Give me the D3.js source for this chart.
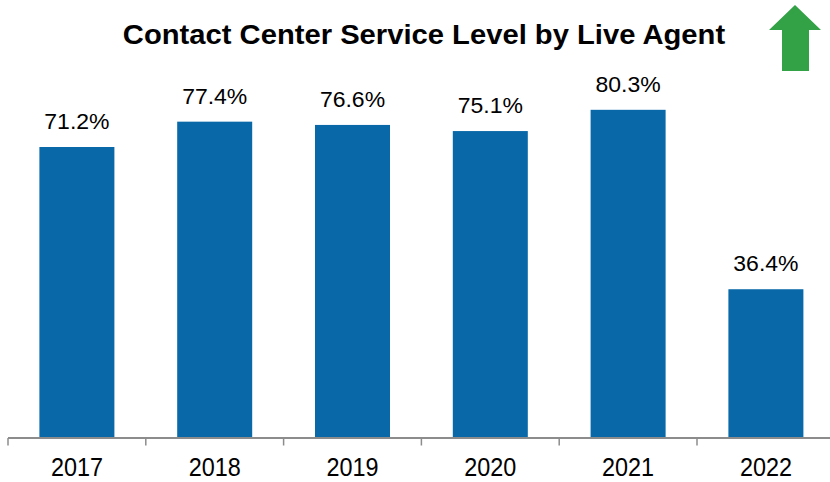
<!DOCTYPE html>
<html>
<head>
<meta charset="utf-8">
<script src="https://cdn.jsdelivr.net/npm/d3@7"></script>
<style>
  body { margin: 0; background: #fff; }
  text { font-family: "Liberation Sans", Arial, sans-serif; fill: #000; }
</style>
</head>
<body>
<div id="chart"></div>
<script>
const years = ['2017', '2018', '2019', '2020', '2021', '2022'];
const serviceLevel = [71.2, 77.4, 76.6, 75.1, 80.3, 36.4];
const titleText = 'Contact Center Service Level by Live Agent';

const width = 830, height = 482;

const svg = d3.select('#chart').append('svg')
  .attr('width', width)
  .attr('height', height);

// band edges carry the tick marks, bars sit in the middle of each band
const x = d3.scaleBand()
  .domain(years)
  .range([8, 8 + 137.8 * years.length])
  .padding(0);

const barWidth = 75;

const y = d3.scaleLinear()
  .domain([0, 100])
  .range([438, 29.3]);

// bars
svg.append('g')
  .selectAll('rect')
  .data(serviceLevel)
  .enter()
  .append('rect')
  .attr('x', (d, i) => x(years[i]) + (x.bandwidth() - barWidth) / 2)
  .attr('y', d => y(d))
  .attr('width', barWidth)
  .attr('height', d => y(0) - y(d))
  .attr('fill', '#0868a8');

// value labels
svg.append('g')
  .selectAll('text')
  .data(serviceLevel)
  .enter()
  .append('text')
  .attr('transform', (d, i) => 'translate(' + (x(years[i]) + x.bandwidth() / 2) + ',' + (y(d) - 18) + ') scale(1,0.93)')
  .attr('text-anchor', 'middle')
  .style('font-size', '23px')
  .text(d => d.toFixed(1) + '%');

// x axis: ticks on the band boundaries
const edges = years.map(yr => x(yr));
const axis = svg.append('g')
  .attr('transform', 'translate(0,' + y(0) + ')');

axis.append('line')
  .attr('x1', x.range()[0])
  .attr('x2', width)
  .attr('y1', 0)
  .attr('y2', 0)
  .attr('stroke', '#8c8c8c')
  .attr('stroke-width', 2);

axis.selectAll('line.tick')
  .data(edges)
  .enter()
  .append('line')
  .attr('class', 'tick')
  .attr('x1', d => d)
  .attr('x2', d => d)
  .attr('y1', 0)
  .attr('y2', 7.5)
  .attr('stroke', '#8c8c8c')
  .attr('stroke-width', 1.5);

axis.selectAll('text')
  .data(years)
  .enter()
  .append('text')
  .attr('transform', d => 'translate(' + (x(d) + x.bandwidth() / 2) + ',38) scale(1,1.14)')
  .attr('text-anchor', 'middle')
  .style('font-size', '23.4px')
  .text(d => d);

// title
svg.append('text')
  .attr('transform', 'translate(424,44) scale(1,0.917)')
  .attr('text-anchor', 'middle')
  .style('font-size', '29.2px')
  .style('font-weight', 'bold')
  .text(titleText);

// green up arrow
svg.append('path')
  .attr('d', 'M795,5 L821,30 L809,30 L809,71 L782,71 L782,30 L769,30 Z')
  .attr('fill', '#33a246');
</script>
</body>
</html>
